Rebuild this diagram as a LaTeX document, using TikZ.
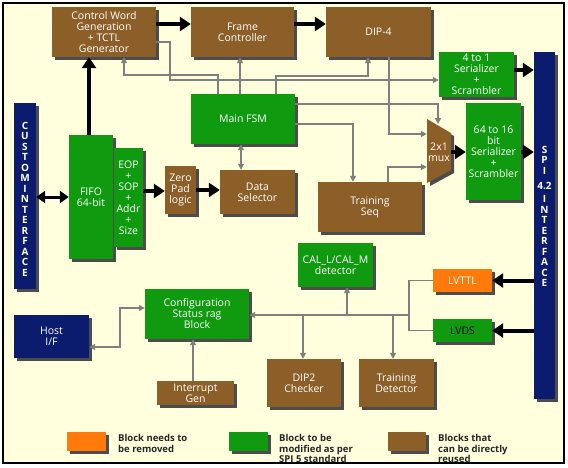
\documentclass[tikz,border=0pt]{standalone}
\usepackage{fontspec}
\setmainfont{Open Sans}
\usetikzlibrary{arrows.meta,shadows}
\definecolor{bgc}{HTML}{FFFFDD}
\definecolor{brn}{HTML}{8C5E28}
\definecolor{grn}{HTML}{109A10}
\definecolor{org}{HTML}{FF7A0A}
\definecolor{nvy}{HTML}{0B1C6E}
\definecolor{gln}{HTML}{7F7F7F}
\tikzset{
  blk/.style={rectangle, inner sep=0pt, text=white, align=center,
     font=\fontsize{10.5}{11}\selectfont,
     drop shadow={shadow xshift=3pt,shadow yshift=-3pt,fill=black!70,opacity=1}},
  sz/.style 2 args={minimum width=#1pt, minimum height=#2pt},
  bbox/.style={blk, fill=brn},
  gbox/.style={blk, fill=grn},
  obox/.style={blk, fill=org},
  nbox/.style={blk, fill=nvy},
  gline/.style={draw=gln, line width=1.5pt},
  gl/.style={gline, -{Triangle[length=6pt,width=6pt]}},
  gl2/.style={gline, {Triangle[length=6pt,width=6pt]}-{Triangle[length=6pt,width=6pt]}},
  tk/.style={draw=black, line width=4pt, -{Triangle[length=11pt,width=14pt]}},
  tk2/.style={draw=black, line width=3pt, {Triangle[length=9pt,width=12pt]}-{Triangle[length=9pt,width=12pt]}},
  vtext/.style={text=white, font=\fontsize{10}{10.5}\selectfont\bfseries, align=center, inner sep=0pt},
  legt/.style={font=\fontsize{9.5}{10.5}\selectfont\bfseries, text=black!85, align=left, anchor=north west, inner sep=0pt}
}
\begin{document}
\begin{tikzpicture}[x=1pt,y=-1pt]
\useasboundingbox (0,0) rectangle (568,467);
\fill[white] (0,0) rectangle (568,467);
\filldraw[fill=bgc, draw=black, line width=1.5pt] (3,3) rectangle (564,463);

% top row
\node[bbox, sz={104}{50}] (cwg) at (104,32) {Control Word\\Generation\\+ TCTL\\Generator};
\node[bbox, sz={103}{50}] (fc) at (242.5,32) {Frame\\Controller};
\node[bbox, sz={105}{50}] (dip4) at (378.5,32) {DIP-4};
\node[gbox, sz={75}{45}] (ser4) at (476.5,74.5) {4 to 1\\Serializer\\+\\Scrambler};

% interface bars
\node[nbox, sz={21}{347}] (spi) at (544.5,225.5) {};
\node[vtext] (spitxt) at (544.5,216.5) {S\\P\\I\\[5pt]4.2\\[2.5pt]I\\N\\T\\E\\R\\F\\A\\C\\E};
\node[nbox, sz={22}{186}] (cust) at (25,196) {};
\node[vtext] (custtxt) at (25,199) {C\\U\\S\\T\\O\\M\\I\\N\\T\\E\\R\\F\\A\\C\\E};

% middle
\node[gbox, sz={104}{50}] (fsm) at (243,119) {Main FSM};
\node[gbox, sz={44}{124}] (fifo) at (91,197) {FIFO\\64-bit};
\node[gbox, sz={29}{99}] (eop) at (128.5,197.5) {EOP\\+\\SOP\\+\\Addr\\+\\Size};
\node[bbox, sz={31}{48}] (zp) at (180.5,190) {Zero\\Pad\\logic};
\node[bbox, sz={75}{44}] (ds) at (257.5,192) {Data\\Selector};
\node[bbox, sz={104}{50}] (ts) at (370,207) {Training\\Seq};
\node[gbox, sz={55}{97}] (ser64) at (493.5,151.5) {64 to 16\\bit\\Serializer\\+\\Scrambler};

% mux
\fill[black!70] (430,122) -- (454,136) -- (454,173) -- (430,186) -- cycle;
\fill[brn] (427,119) -- (451,133) -- (451,170) -- (427,183) -- cycle;
\node[inner sep=0pt, minimum width=24pt, minimum height=64pt, text=white, align=center,
      font=\fontsize{10.5}{10.5}\selectfont] (mux) at (439,152) {2x1\\mux};
\coordinate (muxtop) at (438,124);

% lower
\node[gbox, sz={75}{44}] (cal) at (335.5,265) {CAL\_L/CAL\_M\\detector};
\node[obox, sz={59}{23}] (lvttl) at (462.5,280.5) {LVTTL};
\node[gbox, sz={59}{23}, text=black] (lvds) at (462.5,330.5) {LVDS};
\node[bbox, sz={74}{48}] (dip2) at (304,383) {DIP2\\Checker};
\node[bbox, sz={75}{48}] (td) at (396.5,383) {Training\\Detector};
\node[gbox, sz={104}{50}] (cfg) at (197,314) {Configuration\\Status rag\\Block};
\node[nbox, sz={75}{43}] (host) at (51.5,336.5) {Host\\I/F};
\node[bbox, sz={77}{24}] (intg) at (195.5,393) {Interrupt\\Gen};

% legend
\node[obox, sz={39}{19}] (lo) at (86.5,441.5) {};
\node[legt] (lot) at (118,434.5) {Block needs to\\be removed};
\node[gbox, sz={39}{19}] (lg) at (248.5,441.5) {};
\node[legt] (lgt) at (279,434.5) {Block to be\\modified as per\\SPI 5 standard};
\node[bbox, sz={38}{19}] (lb) at (407,441.5) {};
\node[legt] (lbt) at (438,434.5) {Blocks that\\can be directly\\reused};

% thick connectors
\draw[tk] (cwg.east |- 0,24) -- (fc.west |- 0,24);
\draw[tk] (fc.east |- 0,24) -- (dip4.west |- 0,24);
\draw[tk] (ser4.east |- 0,70) -- (spi.west |- 0,70);
\draw[tk] (mux.east) -- (ser64.west |- mux.east);
\draw[tk] (ser64.east |- 0,152) -- (spi.west |- 0,152);
\draw[tk] (spi.west |- lvttl.east) -- (lvttl.east);
\draw[tk] (spi.west |- lvds.east) -- (lvds.east);
\draw[tk] (fifo.north -| 89,0) -- (cwg.south -| 89,0);
\draw[tk2] (cust.east |- 0,197) -- (fifo.west |- 0,197);
\draw[tk] (eop.east |- 0,191) -- (zp.west |- 0,191);
\draw[tk] (zp.east |- 0,190) -- (ds.west |- 0,190);

% grey connectors (top)
\draw[gl] (fsm.north -| 218,0) -- (218,75) -- (124,75) -- (cwg.south -| 124,0);
\draw[gl] (cwg.east |- 0,42) -- (170,42) -- (170,80) -- (ser4.west |- 0,80);
\draw[gl] (fsm.north -| 240,0) -- (fc.south -| 240,0);
\draw[gl] (fsm.north -| 276,0) -- (276,76) -- (368,76) -- (dip4.south -| 368,0);
\draw[gl] (dip4.south -| 389,0) -- (389,134) -- (mux.west |- 0,134);
\draw[gl] (fsm.east |- 0,104) -- (438,104) -- (muxtop);
\draw[gl] (fsm.east |- 0,124) -- (353,124) -- (ts.north -| 353,0);
\draw[gl] (ts.north -| 388,0) -- (388,167) -- (mux.west |- 0,167);
\draw[gl2] (fsm.south -| 241,0) -- (ds.north -| 241,0);

% grey connectors (bottom)
\draw[gl2] (host.east |- 0,347) -- (120,347) -- (120,308) -- (cfg.west |- 0,308);
\draw[gl] (intg.north -| 193,0) -- (cfg.south -| 193,0);
\coordinate (bj) at (409,315);
\draw[gl] (lvttl.west) -- (409,280.5) -- (bj) -- (cfg.east |- bj);
\draw[gline] (lvds.west) -- (409,330.5) -- (bj);
\draw[gl] (303,315) -- (dip2.north -| 303,0);
\draw[gl] (393,315) -- (td.north -| 393,0);
\draw[gl] (347,315) -- (cal.south -| 347,0);
\end{tikzpicture}
\end{document}
